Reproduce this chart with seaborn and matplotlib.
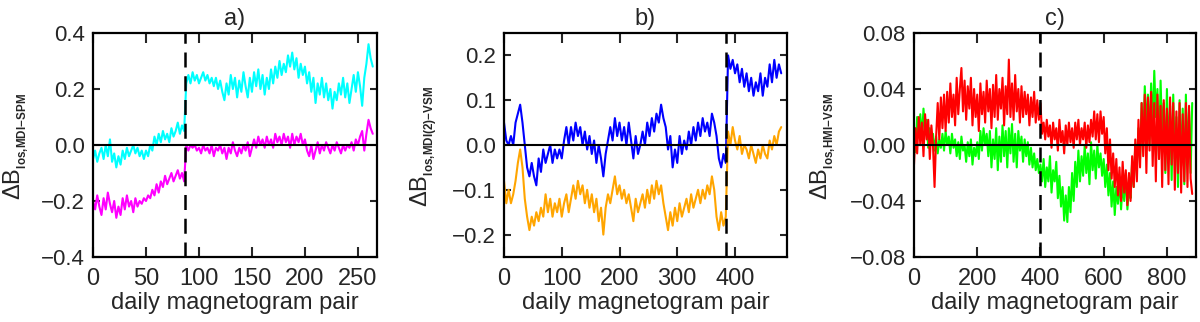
import numpy as np
import pandas as pd
import matplotlib
matplotlib.use("Agg")
import matplotlib.pyplot as plt
import seaborn as sns
from matplotlib.ticker import FuncFormatter, MultipleLocator

# ---------------- data ----------------
# panel a: MDI - SPM (sampled every 2 daily pairs)
a_days = np.arange(0, 265, 2)
a_cyan = [-0.05, -0.02, -0.06, -0.03, -0.01, -0.05, 0.00, -0.04, 0.02, -0.06,
          -0.03, -0.08, -0.04, -0.07, -0.02, -0.05, -0.01, -0.04, -0.02, 0.00,
          -0.03, -0.01, -0.04, -0.02, -0.05, -0.02, -0.04, 0.00, -0.02, 0.03,
          0.00, 0.04, 0.01, 0.05, 0.02, 0.04, 0.01, 0.06, 0.03, 0.05,
          0.08, 0.04, 0.07, 0.05, 0.22, 0.25, 0.22, 0.26, 0.23, 0.25,
          0.22, 0.24, 0.26, 0.23, 0.25, 0.22, 0.24, 0.21, 0.24, 0.20,
          0.23, 0.19, 0.16, 0.22, 0.18, 0.25, 0.20, 0.24, 0.17, 0.23,
          0.19, 0.26, 0.21, 0.17, 0.24, 0.19, 0.26, 0.21, 0.27, 0.20,
          0.25, 0.18, 0.24, 0.20, 0.27, 0.22, 0.28, 0.24, 0.30, 0.25,
          0.29, 0.26, 0.32, 0.28, 0.33, 0.27, 0.31, 0.24, 0.29, 0.25,
          0.28, 0.22, 0.26, 0.19, 0.24, 0.15, 0.22, 0.18, 0.24, 0.17,
          0.22, 0.16, 0.20, 0.13, 0.19, 0.16, 0.22, 0.18, 0.24, 0.17,
          0.22, 0.15, 0.20, 0.25, 0.19, 0.26, 0.21, 0.14, 0.24, 0.29,
          0.36, 0.31, 0.28]
a_magenta = [-0.20, -0.23, -0.18, -0.22, -0.25, -0.19, -0.23, -0.17, -0.21, -0.24,
             -0.20, -0.26, -0.22, -0.25, -0.19, -0.23, -0.18, -0.22, -0.20, -0.24,
             -0.19, -0.22, -0.20, -0.21, -0.19, -0.20, -0.18, -0.19, -0.16, -0.18,
             -0.14, -0.17, -0.13, -0.15, -0.11, -0.14, -0.12, -0.10, -0.13, -0.11,
             -0.09, -0.12, -0.10, -0.13, 0.00, -0.02, 0.00, -0.01, 0.00, -0.02,
             -0.01, -0.03, 0.00, -0.02, -0.01, -0.03, 0.00, -0.04, -0.01, -0.02,
             0.00, -0.03, -0.01, -0.05, -0.01, -0.03, 0.01, -0.02, -0.04, -0.01,
             -0.03, 0.00, -0.02, 0.01, -0.04, -0.01, 0.02, -0.01, 0.03, 0.00,
             0.02, -0.01, 0.03, 0.00, 0.02, -0.01, 0.04, 0.01, 0.03, 0.00,
             0.04, 0.01, 0.03, -0.01, 0.04, 0.00, 0.03, 0.01, 0.04, 0.00,
             0.02, -0.02, -0.04, 0.00, -0.05, -0.02, 0.01, -0.03, 0.00, -0.02,
             0.01, -0.01, -0.03, 0.00, -0.02, 0.01, -0.01, -0.03, 0.00, -0.02,
             0.00, -0.01, 0.01, -0.02, 0.02, 0.00, 0.03, 0.05, -0.02, 0.04,
             0.09, 0.06, 0.04]
a_break = 87

# panel b: MDI(2) - VSM (sampled every 4 daily pairs)
b_days = np.arange(0, 481, 4)
b_blue = [0.05, 0.01, 0.00, 0.02, 0.00, 0.05, 0.07, 0.09, 0.05, 0.00,
          -0.05, -0.07, -0.04, -0.07, -0.09, -0.03, -0.06, -0.01, -0.04, -0.02,
          0.00, -0.04, -0.01, -0.03, -0.01,
          -0.03, 0.01, 0.04, 0.00, 0.04, 0.01, 0.05, 0.02, 0.04, 0.00,
          0.03, -0.01, 0.02, -0.02, 0.01, -0.04, 0.00, -0.03, -0.07, -0.02,
          0.01, 0.04, 0.01, 0.06, 0.02,
          0.05, 0.01, 0.04, 0.00, 0.05, 0.01, -0.03, 0.02, -0.02, 0.00,
          0.03, 0.00, 0.05, 0.02, 0.06, 0.03, 0.07, 0.05, 0.09, 0.06,
          0.04, -0.01, 0.02, -0.05, -0.01,
          -0.04, 0.02, -0.02, 0.01, -0.01, 0.03, 0.00, 0.04, 0.01, 0.05,
          0.02, 0.06, 0.03, 0.05, 0.02, 0.07, 0.05, 0.02, -0.03, -0.05,
          -0.02, -0.04, 0.20, 0.17, 0.19,
          0.16, 0.18, 0.14, 0.17, 0.13, 0.16, 0.12, 0.15, 0.11, 0.14,
          0.12, 0.16, 0.11, 0.15, 0.13, 0.18, 0.14, 0.19, 0.15, 0.18,
          0.16]
b_orange = [-0.08, -0.13, -0.10, -0.13, -0.11, -0.08, -0.04, -0.01, -0.05, -0.12,
            -0.16, -0.19, -0.16, -0.18, -0.15, -0.17, -0.14, -0.16, -0.11, -0.15,
            -0.12, -0.16, -0.13, -0.15, -0.12,
            -0.16, -0.13, -0.11, -0.15, -0.12, -0.09, -0.12, -0.08, -0.11, -0.09,
            -0.13, -0.10, -0.14, -0.11, -0.15, -0.12, -0.17, -0.14, -0.20, -0.14,
            -0.11, -0.13, -0.10, -0.07, -0.11,
            -0.09, -0.12, -0.10, -0.13, -0.11, -0.14, -0.17, -0.12, -0.15, -0.13,
            -0.11, -0.14, -0.10, -0.13, -0.09, -0.12, -0.08, -0.11, -0.09, -0.13,
            -0.16, -0.19, -0.15, -0.18, -0.14,
            -0.17, -0.13, -0.16, -0.14, -0.12, -0.15, -0.11, -0.14, -0.12, -0.10,
            -0.13, -0.10, -0.12, -0.09, -0.11, -0.07, -0.10, -0.16, -0.19, -0.15,
            -0.18, -0.16, 0.03, 0.00, 0.04,
            0.01, -0.01, 0.02, -0.02, 0.00, -0.01, -0.03, 0.00, -0.02, -0.04,
            -0.01, -0.03, 0.00, -0.02, -0.03, 0.01, -0.01, 0.02, 0.00, 0.03,
            0.04]
b_break = 385

# panel c: HMI - VSM (sampled every 5 daily pairs)
c_days = np.arange(0, 881, 5)
c_green = [0.012, -0.005, 0.02, 0.008, 0.022, 0.004, 0.026, 0.01, 0.018, -0.002,
           0.012, 0.0, 0.008, -0.004, 0.006, -0.006, 0.004, -0.002, 0.008, -0.004,
           0.01, 0.0, 0.006, -0.006, 0.008, -0.002, 0.004, -0.008, 0.002, -0.01,
           0.006, -0.004, 0.0, -0.012, 0.002, -0.008, 0.004, -0.014, -0.002, -0.008,
           0.002, -0.01, 0.01, -0.004, 0.012, 0.0, 0.008, -0.008, 0.01, -0.016,
           0.004, -0.01, 0.012, -0.018, 0.006, -0.012, 0.014, -0.008, 0.01, -0.016,
           0.012, -0.006, 0.015, -0.012, 0.008, -0.016, 0.01, -0.004, 0.006, -0.012,
           0.004, -0.008, 0.002, -0.014, -0.002, -0.016, -0.006, -0.018, -0.01, -0.02,
           -0.014, -0.026, -0.01, -0.03, -0.016, -0.026, -0.008, -0.034, -0.018, -0.026,
           -0.012, -0.038, -0.022, -0.044, -0.03, -0.054, -0.036, -0.055, -0.03, -0.048,
           -0.02, -0.04, -0.012, -0.03, -0.004, -0.026, -0.008, -0.022, 0.0, -0.02,
           -0.006, -0.028, 0.002, -0.018, -0.004, -0.024, 0.0, -0.016, -0.006, -0.022,
           -0.01, -0.03, -0.014, -0.036, -0.02, -0.044, -0.026, -0.05, -0.03, -0.042,
           -0.024, -0.046, -0.028, -0.04, -0.02, -0.046, -0.03, -0.038, -0.012, -0.03,
           0.0, -0.014, 0.012, -0.01, 0.03, 0.002, 0.042, 0.01, 0.036, 0.0,
           0.044, 0.012, 0.053, 0.02, 0.04, -0.01, 0.046, 0.005, 0.03, -0.02,
           0.04, -0.006, 0.028, -0.025, 0.036, -0.01, 0.02, -0.03, 0.032, -0.015,
           0.026, -0.028, 0.036, -0.01, 0.024, -0.02, 0.03]
c_red = [-0.014, 0.012, -0.006, 0.02, 0.0, 0.016, -0.008, 0.022, 0.004, 0.018,
         -0.01, 0.014, 0.0, -0.03, 0.006, 0.03, 0.004, 0.034, 0.012, 0.036,
         0.01, 0.038, 0.016, 0.044, 0.02, 0.036, 0.014, 0.048, 0.022, 0.04,
         0.055, 0.024, 0.046, 0.018, 0.042, 0.026, 0.048, 0.014, 0.04, 0.02,
         0.036, 0.01, 0.044, 0.022, 0.038, 0.016, 0.046, 0.024, 0.04, 0.012,
         0.043, 0.02, 0.05, 0.018, 0.04, 0.026, 0.048, 0.014, 0.042, 0.022,
         0.061, 0.02, 0.044, 0.018, 0.05, 0.024, 0.04, 0.016, 0.042, 0.02,
         0.038, 0.022, 0.036, 0.014, 0.034, 0.02, 0.038, 0.016, 0.032, 0.018,
         0.03, 0.008, 0.016, 0.004, 0.018, 0.006, 0.014, -0.002, 0.016, 0.004,
         0.012, -0.004, 0.018, 0.002, 0.01, -0.006, 0.014, 0.0, 0.016, 0.002,
         0.012, -0.002, 0.016, 0.004, 0.018, 0.0, 0.012, 0.004, 0.016, -0.002,
         0.014, 0.002, 0.018, 0.006, 0.024, 0.004, 0.022, 0.002, 0.024, 0.008,
         0.02, -0.006, 0.012, -0.018, 0.004, -0.024, -0.006, -0.03, -0.01, -0.036,
         -0.016, -0.04, -0.012, -0.034, -0.018, -0.043, -0.02, -0.04, -0.008, -0.03,
         0.004, -0.026, 0.018, -0.016, 0.03, -0.008, 0.036, -0.02, 0.034, -0.004,
         0.038, -0.015, 0.03, -0.026, 0.036, -0.01, 0.028, -0.03, 0.032, -0.018,
         0.026, -0.028, 0.034, -0.014, 0.03, -0.032, 0.024, -0.02, 0.03, -0.034,
         0.022, -0.026, 0.03, -0.03, 0.028, -0.024, -0.035]
c_break = 400

titles = ["a)", "b)", "c)"]
ylabel_subs = ["los,MDI\u2212SPM", "los,MDI(2)\u2212VSM", "los,HMI\u2212VSM"]
xlabel = "daily magnetogram pair"

# ---------------- style ----------------
sns.set_style("ticks")
plt.rcParams["font.family"] = ["Liberation Sans", "DejaVu Sans"]
plt.rcParams["mathtext.fontset"] = "custom"
plt.rcParams["mathtext.rm"] = "Liberation Sans"
plt.rcParams["mathtext.bf"] = "Liberation Sans:bold"
plt.rcParams["mathtext.it"] = "Liberation Sans"

fig = plt.figure(figsize=(12, 3.22), dpi=100)
H = 322.0
def add_ax(l, r, t=33, b=257):
    return fig.add_axes([l / 1200.0, 1 - b / H, (r - l) / 1200.0, (b - t) / H])

axes = [add_ax(93, 377), add_ax(504, 787), add_ax(914, 1196)]

panels = [
    (a_days, [(a_cyan, "#00FFFF"), (a_magenta, "#FF00FF")], a_break,
     (0, 268), 50, (-0.4, 0.4), 0.2, 1),
    (b_days, [(b_blue, "#0000FF"), (b_orange, "#FFA500")], b_break,
     (0, 490), 100, (-0.25, 0.25), 0.1, 1),
    (c_days, [(c_green, "#00FF00"), (c_red, "#FF0000")], c_break,
     (0, 892), 200, (-0.08, 0.08), 0.04, 2),
]

def make_fmt(nd):
    def f(v, pos):
        if abs(v) < 1e-9:
            v = 0.0
        return f"{v:.{nd}f}".replace("-", "\u2212")
    return FuncFormatter(f)

ylab_x = [1, 409, 808]
for ax, (days, series, brk, xl, xstep, yl, ystep, nd), title, sub, yx in zip(
        axes, panels, titles, ylabel_subs, ylab_x):
    for vals, col in series:
        df = pd.DataFrame({"day": days, "val": vals})
        sns.lineplot(data=df, x="day", y="val", ax=ax, color=col, lw=1.5,
                     estimator=None, sort=False)
    ax.axhline(0, color="black", lw=1.5, zorder=3)
    ax.axvline(brk, color="black", lw=1.8, ls=(0, (6, 3.5)), zorder=3)
    ax.set_xlim(*xl)
    ax.set_ylim(*yl)
    ax.xaxis.set_major_locator(MultipleLocator(xstep))
    ax.yaxis.set_major_locator(MultipleLocator(ystep))
    ax.yaxis.set_major_formatter(make_fmt(nd))
    ax.tick_params(axis="x", direction="in", length=7.5, width=1.5, top=True,
                   labelsize=17, pad=8)
    ax.tick_params(axis="y", direction="in", length=5, width=1.5, right=True,
                   labelsize=16, pad=6)
    for sp in ax.spines.values():
        sp.set_linewidth(1.6)
        sp.set_color("black")
    ax.set_xlabel(xlabel, fontsize=17, labelpad=1.5)
    ax.set_ylabel("")
    ax.set_title(title, fontsize=17, pad=6)
    # y label: large "Delta B" with a small bold subscript
    sub_tex = sub.replace(",", ",\\!").replace("\u2212", "\\!\u2212\\!")
    fig.text(yx / 1200.0, (322 - 146) / 322.0,
             r"$\Delta$B$_{{}_{\bf " + sub_tex + "}}$",
             rotation=90, fontsize=17, ha="left", va="center")

fig.savefig("out.png", dpi=100)
